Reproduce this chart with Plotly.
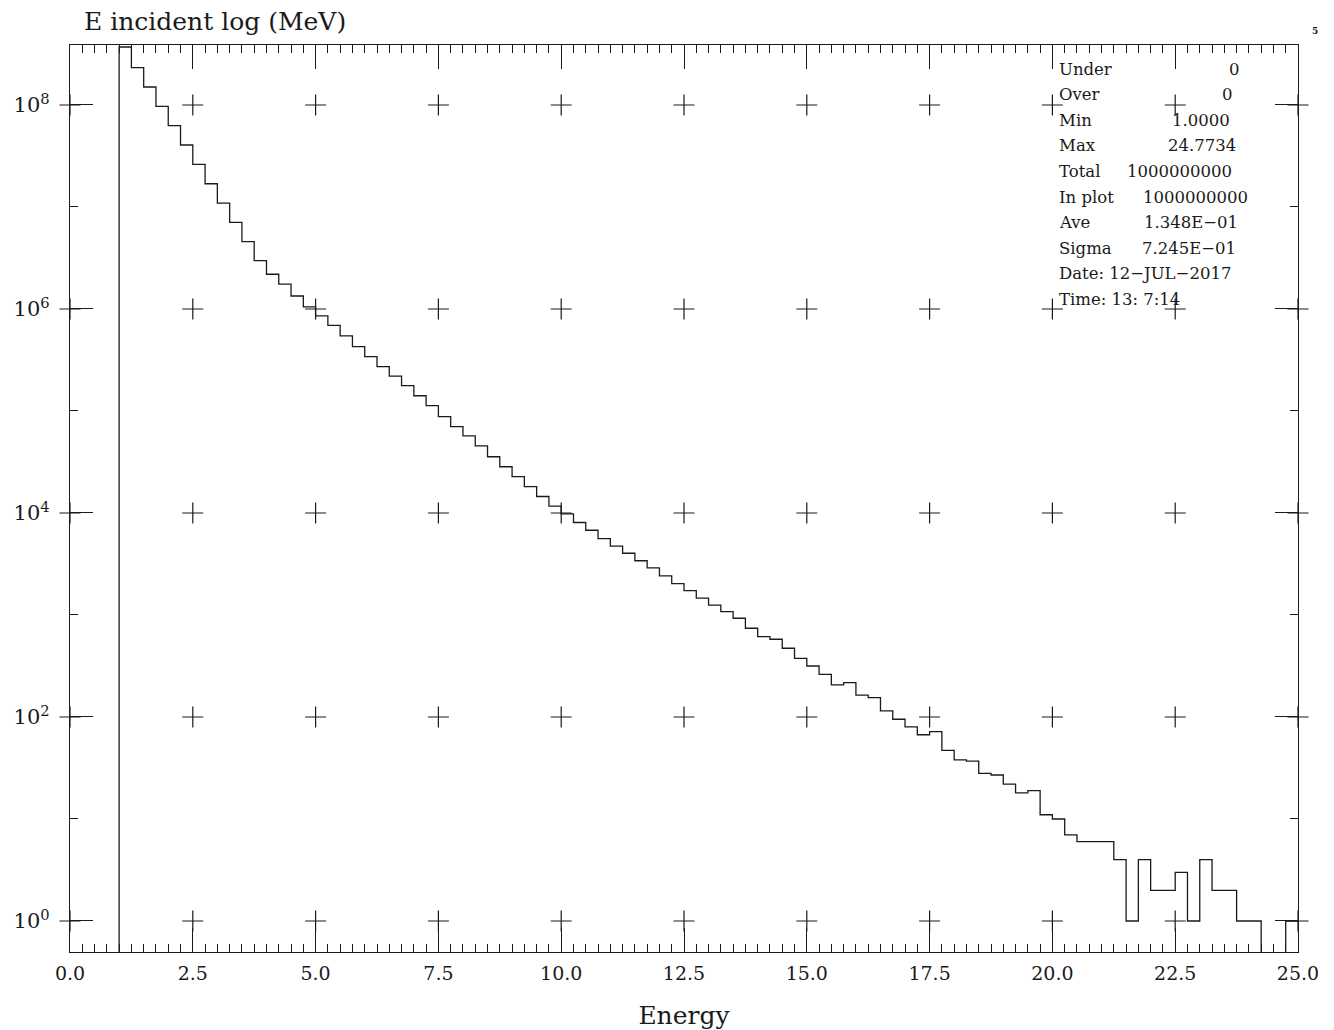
import numpy as np
import plotly.graph_objects as go

# ---- histogram definition: 100 bins of 0.25 MeV between 0 and 25 ----
bin_start = 0.0
bin_width = 0.25
n_bins = 100

# entries per bin (bins 0.00-0.25 ... 24.75-25.00)
counts = [
    0, 0, 0, 0,
    3.70e8, 2.32e8, 1.50e8, 9.71e7, 6.27e7, 4.05e7, 2.62e7, 1.69e7,
    1.09e7, 7.08e6, 4.57e6, 2.98e6, 2.19e6, 1.75e6, 1.34e6, 1.05e6,
    8.54e5, 6.92e5, 5.44e5, 4.27e5, 3.41e5, 2.72e5, 2.20e5, 1.77e5,
    1.41e5, 1.13e5, 8.80e4, 7.02e4, 5.69e4, 4.54e4, 3.56e4, 2.84e4,
    2.27e4, 1.81e4, 1.45e4, 1.17e4, 9780, 8070, 6770, 5600,
    4730, 4030, 3400, 2890, 2420, 2030, 1730, 1460,
    1250, 1080, 929, 741, 613, 578, 472, 376,
    316, 262, 206, 217, 164, 155, 115, 95,
    80, 67, 72, 47, 38, 37, 28, 27,
    22, 18, 19, 11, 10, 7, 6, 6,
    6, 4, 1, 4, 2, 2, 3, 1,
    4, 2, 2, 1, 1, 0, 0, 1,
]

# axis tick definitions
x_major = [0.0, 2.5, 5.0, 7.5, 10.0, 12.5, 15.0, 17.5, 20.0, 22.5, 25.0]
y_major = [1, 1e2, 1e4, 1e6, 1e8]
y_major_text = ["10<sup>0</sup>", "10<sup>2</sup>", "10<sup>4</sup>",
                "10<sup>6</sup>", "10<sup>8</sup>"]
y_minor = [1e1, 1e3, 1e5, 1e7]

# statistics block
stat_labels = ["Under", "Over", "Min", "Max", "Total", "In plot", "Ave", "Sigma"]
stat_values = ["0", "0", "1.0000", "24.7734", "1000000000", "1000000000",
               "1.348E\u221201", "7.245E\u221201"]
stat_date = "Date: 12\u2212JUL\u22122017"
stat_time = "Time: 13: 7:14"

title_text = "E incident log (MeV)"
x_title = "Energy"
page_number = "5"

# ---- layout geometry ----
W, H = 1334, 1030
ML, MR, MT, MB = 70, 36, 45, 78
PW, PH = W - ML - MR, H - MT - MB
y_log_range = [-0.304, 8.588]
FONT = "DejaVu Serif"
INK = "#1a1a1a"


def px(xp):
    return (xp - ML) / PW


def py(yp):
    return 1 - (yp - MT) / PH


edges = bin_start + bin_width * np.arange(n_bins + 1)
vals = np.asarray(counts, dtype=float)
# empty bins are sent below the visible range so the outline drops to the floor
floor_val = 10 ** (y_log_range[0] - 1)
step_y = np.where(vals > 0, vals, floor_val)
step_y = np.append(step_y, step_y[-1])

fig = go.Figure()

# grid crosses at every pair of major ticks
gx, gy = np.meshgrid(x_major, y_major)
fig.add_trace(go.Scatter(
    x=gx.ravel(), y=gy.ravel(), mode="markers",
    marker=dict(symbol="cross-thin", size=15,
                line=dict(width=1.2, color=INK), color=INK),
    cliponaxis=False, hoverinfo="skip", showlegend=False,
))

# histogram outline
fig.add_trace(go.Scatter(
    x=edges, y=step_y, mode="lines", line_shape="hv",
    line=dict(color=INK, width=1.3), showlegend=False,
))

fig.update_xaxes(
    range=[x_major[0], x_major[-1]],
    tickmode="array", tickvals=x_major,
    ticktext=[f"{v:.1f}" for v in x_major],
    ticks="inside", ticklen=24, tickwidth=1.2, tickcolor=INK,
    minor=dict(dtick=bin_width, tick0=0, ticks="inside", ticklen=8,
               tickwidth=1.2, tickcolor=INK),
    showline=True, linecolor=INK, linewidth=1.3, mirror="allticks",
    showgrid=False, zeroline=False, automargin=False,
    tickfont=dict(family=FONT, size=19, color=INK),
    ticklabelstandoff=4,
    title=dict(text=x_title, font=dict(family=FONT, size=25, color=INK),
               standoff=26),
)
fig.update_yaxes(
    type="log", range=y_log_range,
    tickmode="array", tickvals=y_major, ticktext=y_major_text,
    ticks="inside", ticklen=23, tickwidth=1.2, tickcolor=INK,
    minor=dict(tickmode="array", tickvals=y_minor, ticks="inside",
               ticklen=8, tickwidth=1.2, tickcolor=INK),
    showline=True, linecolor=INK, linewidth=1.3, mirror="allticks",
    showgrid=False, zeroline=False, automargin=False,
    tickfont=dict(family=FONT, size=21, color=INK),
    ticklabelstandoff=15,
)

annotations = [
    dict(text=title_text, x=px(82), y=py(21), xanchor="left", yanchor="middle",
         font=dict(family=FONT, size=25, color=INK)),
    dict(text=f"<b>{page_number}</b>", x=px(1315), y=py(31), xanchor="center",
         yanchor="middle", font=dict(family=FONT, size=9, color=INK)),
]

# stats: label column at left, value right edges as laid out in the block
row_y0, row_dy = 69, 25.6
value_right = [1242, 1235, 1232, 1238, 1234, 1250, 1240, 1238]
for i, (lab, val) in enumerate(zip(stat_labels, stat_values)):
    yc = row_y0 + i * row_dy
    annotations.append(dict(text=lab, x=px(1057), y=py(yc), xanchor="left",
                            yanchor="middle",
                            font=dict(family=FONT, size=16.5, color=INK)))
    annotations.append(dict(text=val, x=px(value_right[i]), y=py(yc),
                            xanchor="right", yanchor="middle",
                            font=dict(family=FONT, size=16.5, color=INK)))
for j, line in enumerate([stat_date, stat_time]):
    yc = row_y0 + (len(stat_labels) + j) * row_dy
    annotations.append(dict(text=line, x=px(1057), y=py(yc), xanchor="left",
                            yanchor="middle",
                            font=dict(family=FONT, size=16.5, color=INK)))

for a in annotations:
    a.update(xref="paper", yref="paper", showarrow=False)

fig.update_layout(
    width=W, height=H,
    margin=dict(l=ML, r=MR, t=MT, b=MB, pad=0, autoexpand=False),
    paper_bgcolor="white", plot_bgcolor="white",
    annotations=annotations,
    showlegend=False,
)

fig.write_html("out.html")
